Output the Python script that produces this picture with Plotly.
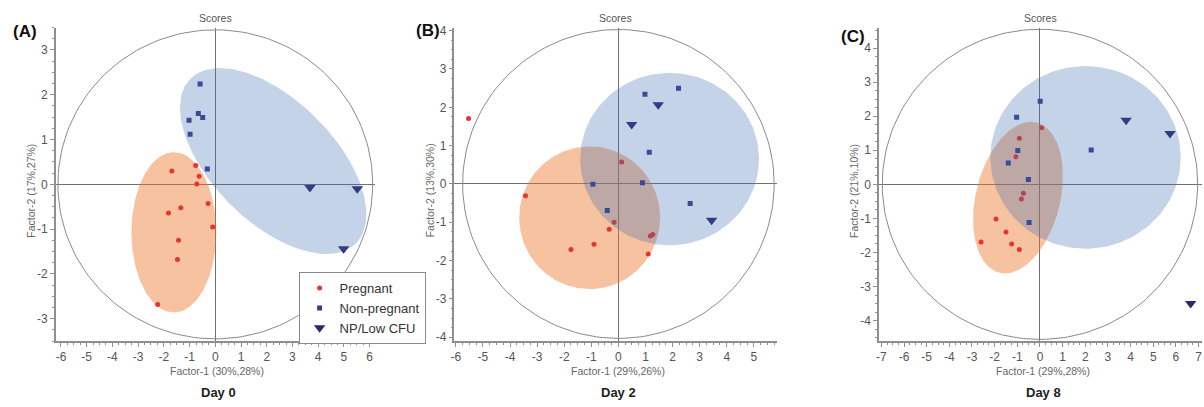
import numpy as np
import plotly.graph_objects as go

# ---------------- data ----------------
# Panel A - Day 0
A_preg_x = [-1.69, -0.76, -0.63, -0.72, -0.28, -1.34, -1.82, -0.10, -1.43, -1.47, -2.24]
A_preg_y = [0.30, 0.42, 0.18, 0.01, -0.43, -0.52, -0.64, -0.95, -1.25, -1.68, -2.68]
A_np_x = [-0.59, -0.66, -0.49, -1.02, -0.98, -0.31]
A_np_y = [2.24, 1.58, 1.49, 1.43, 1.12, 0.34]
A_low_x = [3.68, 5.52, 4.99]
A_low_y = [-0.07, -0.10, -1.44]

# Panel B - Day 2
B_preg_x = [-5.53, 0.12, -3.43, -0.16, -0.34, -1.75, -0.90, 1.18, 1.27, 1.10]
B_preg_y = [1.71, 0.57, -0.31, -1.00, -1.18, -1.71, -1.57, -1.36, -1.32, -1.83]
B_np_x = [0.98, 2.22, 1.14, -0.94, 0.89, -0.41, 2.65]
B_np_y = [2.34, 2.50, 0.83, -0.01, 0.03, -0.69, -0.51]
B_low_x = [1.47, 0.49, 3.44]
B_low_y = [2.07, 1.55, -0.95]

# Panel C - Day 8
C_preg_x = [0.07, -0.91, -1.06, -0.73, -0.82, -1.94, -1.50, -2.60, -1.25, -0.91]
C_preg_y = [1.66, 1.35, 0.81, -0.26, -0.43, -1.02, -1.40, -1.69, -1.75, -1.91]
C_np_x = [0.01, -1.03, 2.26, -0.98, -1.40, -0.51, -0.48]
C_np_y = [2.44, 1.97, 1.01, 0.99, 0.63, 0.14, -1.12]
C_low_x = [3.80, 5.74, 6.65]
C_low_y = [1.88, 1.49, -3.50]

# group ellipses: centre x, centre y, var x, var y, cov xy
A_preg_ell = [-1.61, -1.07, 2.72, 3.20, 0.0]
A_np_ell = [2.25, 0.52, 13.13, 4.31, -4.30]
B_preg_ell = [-1.06, -0.88, 6.76, 3.46, 0.0]
B_np_ell = [1.89, 0.65, 10.89, 5.06, 0.0]
C_preg_ell = [-0.97, -0.39, 3.93, 4.95, 1.27]
C_np_ell = [2.01, 0.79, 17.64, 7.18, 0.0]

# outer limit ellipse radii (x, y)
A_limit = [6.12, 3.45]
B_limit = [5.75, 4.03]
C_limit = [6.96, 4.55]

# tick values / labels
A_xticks = [-6, -5, -4, -3, -2, -1, 0, 1, 2, 3, 4, 5, 6]
A_yticks = [-3, -2, -1, 0, 1, 2, 3]
B_xticks = [-6, -5, -4, -3, -2, -1, 0, 1, 2, 3, 4, 5]
B_yticks = [-4, -3, -2, -1, 0, 1, 2, 3, 4]
C_xticks = [-7, -6, -5, -4, -3, -2, -1, 0, 1, 2, 3, 4, 5, 6, 7]
C_yticks = [-4, -3, -2, -1, 0, 1, 2, 3, 4]

x_titles = ["Factor-1 (30%,28%)", "Factor-1 (29%,26%)", "Factor-1 (29%,28%)"]
y_titles = ["Factor-2 (17%,27%)", "Factor-2 (13%,30%)", "Factor-2 (21%,10%)"]
panel_labels = ["(A)", "(B)", "(C)"]
day_labels = ["Day 0", "Day 2", "Day 8"]
group_names = ["Pregnant", "Non-pregnant", "NP/Low CFU"]

x_ranges = [[-6.2, 6.2], [-6.05, 5.87], [-7.1, 7.15]]
y_ranges = [[-3.5, 3.5], [-4.1, 4.08], [-4.6, 4.6]]

# ---------------- helpers ----------------
W, H = 1204, 407
t = np.linspace(0, 2 * np.pi, 181)


def ell_pts(p):
    cx, cy, sxx, syy, sxy = p
    cov = np.array([[sxx, sxy], [sxy, syy]])
    vals, vecs = np.linalg.eigh(cov)
    pts = vecs @ np.diag(np.sqrt(vals)) @ np.vstack([np.cos(t), np.sin(t)])
    return cx + pts[0], cy + pts[1]


def px(x):
    return x / W


def py(y):
    return 1 - y / H


def lab(v):
    return str(v)  # plain hyphen minus, as in the reference


FONT = "Liberation Sans, Arial, sans-serif"
RED = "#e5352e"
SQ = "#3b3a8e"
TRI = "#2c2870"
ORANGE = "rgba(235,120,45,0.45)"
BLUE = "rgba(60,110,180,0.30)"
AXC = "#8f8f8f"

panels = [
    (A_preg_x, A_preg_y, A_np_x, A_np_y, A_low_x, A_low_y, A_preg_ell, A_np_ell, A_limit, A_xticks, A_yticks),
    (B_preg_x, B_preg_y, B_np_x, B_np_y, B_low_x, B_low_y, B_preg_ell, B_np_ell, B_limit, B_xticks, B_yticks),
    (C_preg_x, C_preg_y, C_np_x, C_np_y, C_low_x, C_low_y, C_preg_ell, C_np_ell, C_limit, C_xticks, C_yticks),
]

x_dom_px = [(52, 372), (452, 776), (878, 1202)]
y_dom = [py(343), py(24)]

fig = go.Figure()
layout = {}
annotations = []

for i, (prx, pry, nx, ny, lx, ly, pe, ne, lim, xt, yt) in enumerate(panels):
    xa = "x" if i == 0 else f"x{i+1}"
    ya = "y" if i == 0 else f"y{i+1}"
    leg = i == 0
    # orange (pregnant) ellipse, below the points
    ex, ey = ell_pts(pe)
    fig.add_trace(go.Scatter(x=ex, y=ey, mode="lines", fill="toself", fillcolor=ORANGE,
                             line=dict(width=0), hoverinfo="skip", showlegend=False,
                             xaxis=xa, yaxis=ya))
    # outer limit ellipse
    fig.add_trace(go.Scatter(x=lim[0] * np.cos(t), y=lim[1] * np.sin(t), mode="lines",
                             line=dict(color="#8a8a8a", width=1), hoverinfo="skip",
                             showlegend=False, xaxis=xa, yaxis=ya))
    # points
    fig.add_trace(go.Scatter(x=prx, y=pry, mode="markers", name=group_names[0],
                             marker=dict(symbol="circle", size=5, color=RED),
                             showlegend=leg, legendgroup="p", xaxis=xa, yaxis=ya))
    fig.add_trace(go.Scatter(x=nx, y=ny, mode="markers", name=group_names[1],
                             marker=dict(symbol="square", size=5, color=SQ),
                             showlegend=leg, legendgroup="n", xaxis=xa, yaxis=ya))
    fig.add_trace(go.Scatter(x=lx, y=ly, mode="markers", name=group_names[2],
                             marker=dict(symbol="triangle-down", size=10, color=TRI),
                             showlegend=leg, legendgroup="l", xaxis=xa, yaxis=ya))
    # blue (non-pregnant) ellipse, drawn above the points
    ex, ey = ell_pts(ne)
    fig.add_trace(go.Scatter(x=ex, y=ey, mode="lines", fill="toself", fillcolor=BLUE,
                             line=dict(width=0), hoverinfo="skip", showlegend=False,
                             xaxis=xa, yaxis=ya))

    axis_common = dict(
        showgrid=False, zeroline=True, zerolinecolor="#707070", zerolinewidth=1,
        showline=True, linecolor=AXC, linewidth=1.5, mirror=False,
        ticks="outside", ticklen=4, tickcolor=AXC, tickwidth=1,
        minor=dict(ticks="outside", ticklen=2, tickcolor=AXC, dtick=0.25),
        tickfont=dict(family=FONT, size=12, color="#555555"),
        fixedrange=True,
    )
    d0, d1 = x_dom_px[i]
    layout["xaxis" if i == 0 else f"xaxis{i+1}"] = dict(
        axis_common, domain=[px(d0), px(d1)], range=x_ranges[i], anchor=ya,
        tickmode="array", tickvals=xt, ticktext=[lab(v) for v in xt])
    layout["yaxis" if i == 0 else f"yaxis{i+1}"] = dict(
        axis_common, domain=y_dom, range=y_ranges[i], anchor=xa,
        tickmode="array", tickvals=yt, ticktext=[lab(v) for v in yt])

    cxp = (d0 + d1) / 2
    annotations += [
        dict(text="Scores", x=px(cxp), y=py(14), font=dict(family=FONT, size=10.5, color="#555555")),
        dict(text=x_titles[i], x=px(cxp + 2), y=py(373), font=dict(family=FONT, size=10.5, color="#666666")),
        dict(text=y_titles[i], x=px(d0 - 25), y=py(190), textangle=-90,
             font=dict(family=FONT, size=10.5, color="#666666")),
        dict(text=f"<b>{day_labels[i]}</b>", x=px(cxp + 3), y=py(395),
             font=dict(family=FONT, size=13, color="#222222")),
    ]

label_pos = [(21, 28), (425, 27), (852, 33)]
for lab_, (lx_, ly_) in zip(panel_labels, label_pos):
    annotations.append(dict(text=f"<b>{lab_}</b>", x=px(lx_), y=py(ly_),
                            font=dict(family=FONT, size=17, color="#111111")))

for a in annotations:
    a.update(xref="paper", yref="paper", showarrow=False, xanchor="center", yanchor="middle")

fig.update_layout(
    **layout,
    annotations=annotations,
    width=W, height=H,
    margin=dict(l=0, r=0, t=0, b=0),
    paper_bgcolor="white", plot_bgcolor="white",
    showlegend=True,
    legend=dict(x=px(423), y=py(346), xanchor="right", yanchor="bottom",
                bgcolor="white", bordercolor="#8a8a8a", borderwidth=1,
                font=dict(family=FONT, size=13, color="#333333"),
                itemwidth=30, tracegroupgap=0, traceorder="normal"),
    font=dict(family=FONT),
)

fig.write_html("out.html", config={"displayModeBar": False},
               post_script="document.body.style.margin='0';document.body.style.overflow='hidden';")
